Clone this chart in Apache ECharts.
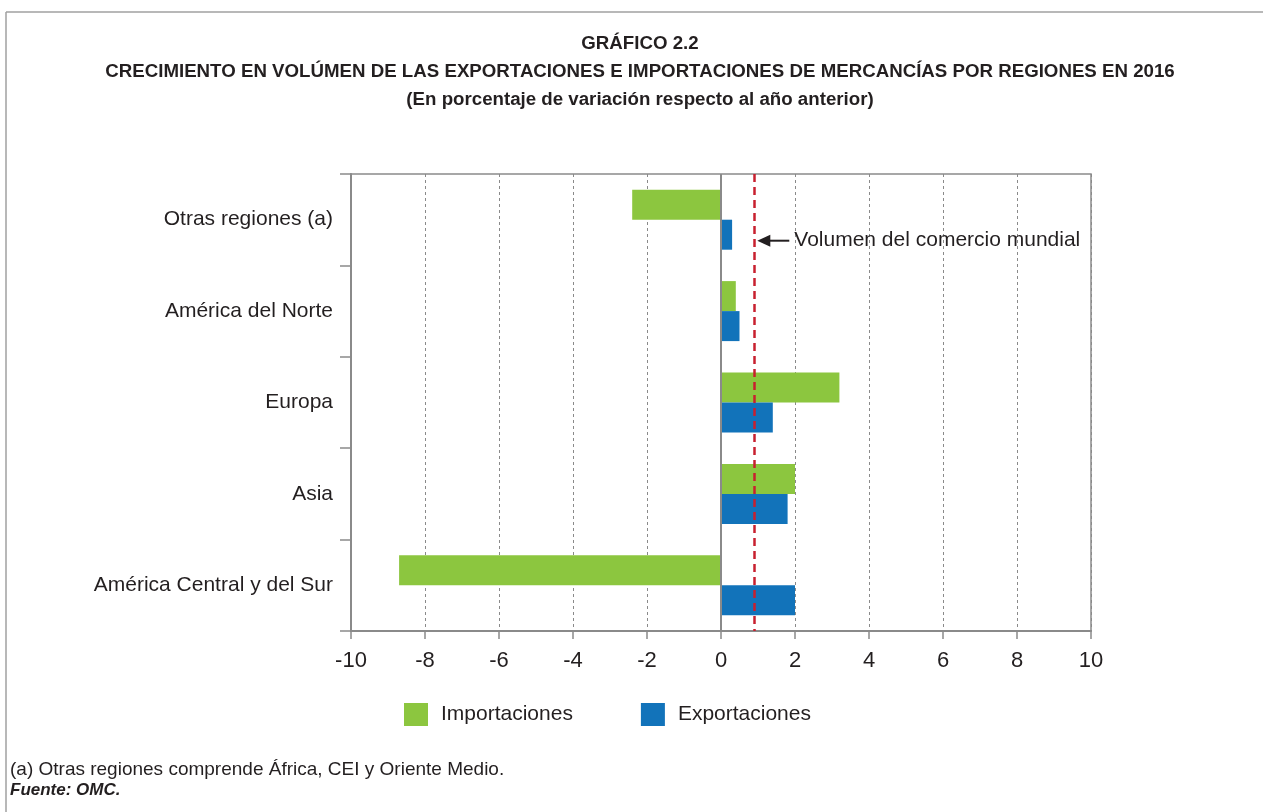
<!DOCTYPE html>
<html>
<head>
<meta charset="utf-8">
<script src="https://cdn.jsdelivr.net/npm/echarts@6/dist/echarts.min.js"></script>
<style>
  html, body { margin: 0; padding: 0; background: #fff; }
  #chart { width: 1263px; height: 812px; }
</style>
</head>
<body>
<div id="chart"></div>
<script>
// data (% change vs previous year)
var regions = ['Otras regiones (a)', 'América del Norte', 'Europa', 'Asia', 'América Central y del Sur'];
var importaciones = [-2.4, 0.4, 3.2, 2.0, -8.7];
var exportaciones = [0.3, 0.5, 1.4, 1.8, 2.0];
var comercioMundial = 0.9;
var xTicks = { min: -10, max: 10, interval: 2 };

var FONT = '"Liberation Sans", Arial, sans-serif';
var GREEN = '#8cc63f';
var BLUE = '#1273ba';
var AXIS = '#8a8a8a';

var myChart = echarts.init(document.getElementById('chart'));

var option = {
	backgroundColor: '#fff',
	animation: false,
	textStyle: { fontFamily: FONT },
	grid: {
		left: 351,
		right: 172,
		top: 174,
		bottom: 181,
		show: true,
		borderColor: AXIS,
		borderWidth: 1.5
	},
	legend: {
		left: 399,
		top: 698,
		itemWidth: 24,
		itemHeight: 23,
		itemGap: 68,
		icon: 'rect',
		textStyle: { fontSize: 21, color: '#231f20', fontFamily: FONT, padding: [0, 0, 0, 8] },
		data: ['Importaciones', 'Exportaciones']
	},
	xAxis: {
		type: 'value',
		min: xTicks.min,
		max: xTicks.max,
		interval: xTicks.interval,
		axisLine: { show: true, onZero: false, lineStyle: { color: AXIS, width: 2 } },
		axisTick: { show: true, length: 8, lineStyle: { color: AXIS, width: 1.5 } },
		axisLabel: { fontSize: 22, color: '#231f20', margin: 19, fontFamily: FONT },
		splitLine: { show: true, lineStyle: { color: AXIS, type: [3, 3], width: 1 } }
	},
	yAxis: {
		type: 'category',
		inverse: true,
		data: regions,
		axisLine: { show: true, onZero: false, lineStyle: { color: AXIS, width: 2 } },
		axisTick: { show: true, length: 11, lineStyle: { color: AXIS, width: 1.5 } },
		axisLabel: { fontSize: 21, color: '#231f20', margin: 18, fontFamily: FONT },
		splitLine: { show: false }
	},
	series: [{
		name: 'Importaciones',
		type: 'bar',
		barWidth: 30,
		barGap: '0%',
		itemStyle: { color: GREEN },
		data: importaciones,
		markLine: {
			silent: true,
			symbol: 'none',
			label: { show: false },
			lineStyle: { color: AXIS, width: 2, type: 'solid' },
			data: [{ xAxis: 0 }]
		}
	}, {
		name: 'Exportaciones',
		type: 'bar',
		barWidth: 30,
		barGap: '0%',
		itemStyle: { color: BLUE },
		data: exportaciones,
		markLine: {
			silent: true,
			symbol: 'none',
			label: { show: false },
			lineStyle: { color: '#c8202f', width: 2.5, type: [8, 5] },
			data: [{ xAxis: comercioMundial }]
		}
	}]
};
myChart.setOption(option);

// annotation arrow + texts
var p = myChart.convertToPixel({ gridIndex: 0 }, [comercioMundial, regions[0]]);
var ay = p[1] + 21;
var ax = p[0] + 3;
myChart.setOption({
	graphic: [
		// outer frame
		{ type: 'line', shape: { x1: 6, y1: 12, x2: 1263, y2: 12 }, style: { stroke: '#a0a0a0', lineWidth: 1.5 } },
		{ type: 'line', shape: { x1: 6, y1: 12, x2: 6, y2: 812 }, style: { stroke: '#a0a0a0', lineWidth: 1.5 } },
		// titles
		{ type: 'text', x: 640, y: 44, style: { text: 'GRÁFICO 2.2', font: 'bold 18.7px ' + FONT, fill: '#231f20', textAlign: 'center', textVerticalAlign: 'middle' } },
		{ type: 'text', x: 640, y: 72, style: { text: 'CRECIMIENTO EN VOLÚMEN DE LAS EXPORTACIONES E IMPORTACIONES DE MERCANCÍAS POR REGIONES EN 2016', font: 'bold 18.7px ' + FONT, fill: '#231f20', textAlign: 'center', textVerticalAlign: 'middle' } },
		{ type: 'text', x: 640, y: 100, style: { text: '(En porcentaje de variación respecto al año anterior)', font: 'bold 18.7px ' + FONT, fill: '#231f20', textAlign: 'center', textVerticalAlign: 'middle' } },
		// arrow to world trade line
		{ type: 'line', shape: { x1: ax + 10, y1: ay, x2: ax + 32, y2: ay }, style: { stroke: '#231f20', lineWidth: 2 } },
		{ type: 'polygon', shape: { points: [[ax, ay], [ax + 13, ay - 6], [ax + 13, ay + 6]] }, style: { fill: '#231f20' } },
		{ type: 'text', x: ax + 37, y: ay, style: { text: 'Volumen del comercio mundial', font: '21px ' + FONT, fill: '#231f20', textVerticalAlign: 'middle' } },
		// footnotes
		{ type: 'text', x: 10, y: 770, style: { text: '(a) Otras regiones comprende África, CEI y Oriente Medio.', font: '19px ' + FONT, fill: '#231f20', textVerticalAlign: 'middle' } },
		{ type: 'text', x: 10, y: 790, style: { text: 'Fuente: OMC.', font: 'italic bold 17px ' + FONT, fill: '#231f20', textVerticalAlign: 'middle' } }
	]
});
</script>
</body>
</html>
